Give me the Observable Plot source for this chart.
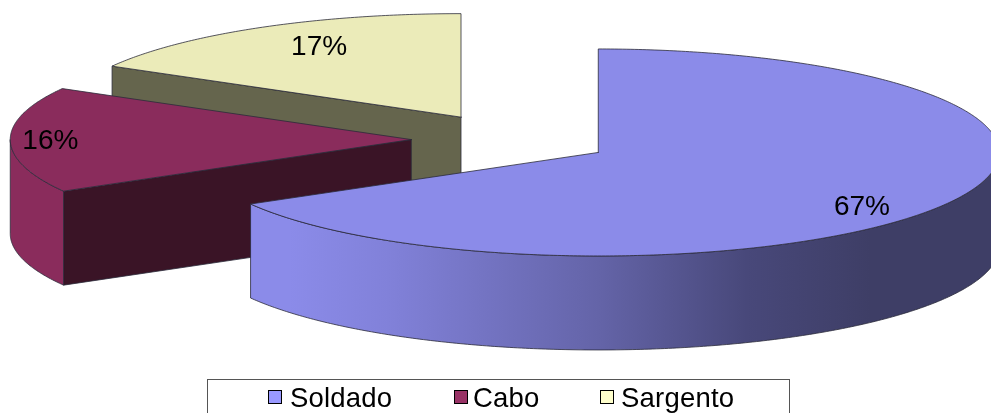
<!DOCTYPE html>
<html>
<head>
<meta charset="utf-8">
<script src="https://cdn.jsdelivr.net/npm/d3@7"></script>
<script src="https://cdn.jsdelivr.net/npm/@observablehq/plot@0.6"></script>
<style>
html,body{margin:0;padding:0;width:991px;height:413px;overflow:hidden;background:#fff;}
#chart svg{display:block;filter:blur(0.45px);}
#legend{box-sizing:border-box;position:absolute;left:207px;top:379px;width:583px;height:44px;border:1px solid #555;
 font:27.5px "Liberation Sans",Arial,sans-serif;letter-spacing:0.2px;color:#000;filter:blur(0.45px);}
#legend span.item{position:absolute;top:0px;line-height:36px;white-space:nowrap;}
#legend i{position:absolute;width:12px;height:12px;border:1.5px solid #000;top:10px;box-sizing:content-box;}
</style>
</head>
<body>
<div id="chart"></div>
<div id="legend"></div>
<script>
const categories = ["Soldado", "Cabo", "Sargento"];
const shares = [66.7, 16.5, 16.8];
const percentLabels = ["67%", "16%", "17%"];
const legendColors = ["#9999ff", "#993366", "#ffffcc"];
const topColors = ["#8b8be9", "#8a2c5c", "#ebebb9"];
const faceColors = ["#3e3e66", "#3a1426", "#65654d"];

// Layout of the projected pie
const W = 991, H = 379;
const cx = 511, cy = 139, rx = 401, ry = 103.5, depth = 94, explode = 0.25;
const labelFraction = [0.835, 0.9, 0.773];
const labelTurn = [8, 1, 3];
const labelDrop = [0, 2, 0];

const arcs = d3.pie().sort(null).value(d => d)(shares);

const sectors = arcs.map((a, i) => {
  const mid = (a.startAngle + a.endAngle) / 2;
  return {
    i, a0: a.startAngle, a1: a.endAngle, mid,
    ox: cx + explode * rx * Math.sin(mid),
    oy: cy - explode * ry * Math.cos(mid)
  };
});

const pt = (s, t, f = 1, dz = 0) => ({
  x: s.ox + f * rx * Math.sin(t),
  y: s.oy - f * ry * Math.cos(t) + dz
});
const arcPts = (s, a0, a1, dz = 0) => {
  const n = Math.max(2, Math.ceil((a1 - a0) / 0.01));
  return d3.range(n + 1).map(k => pt(s, a0 + (a1 - a0) * k / n, 1, dz));
};
const closed = p => [...p, p[0]];
const apex = (s, dz = 0) => ({x: s.ox, y: s.oy + dz});

const lineStyle = {x: "x", y: "y", stroke: "#2b2b3a", strokeWidth: 0.8, strokeLinejoin: "round"};
const shape = (pts, fill) => Plot.line(pts, {...lineStyle, fill});

const gradient = () => {
  const defs = d3.create("svg:defs");
  const g = defs.append("linearGradient").attr("id", "rimSoldado")
    .attr("gradientUnits", "userSpaceOnUse")
    .attr("x1", 252).attr("x2", 870).attr("y1", 0).attr("y2", 0);
  [[0.06, topColors[0]], [0.22, "#8181d9"], [0.56, "#6464a8"], [0.8, "#48487a"], [1, faceColors[0]]]
    .forEach(([o, c]) => g.append("stop").attr("offset", o).attr("stop-color", c));
  return defs.node();
};

const marks = [gradient];
// back to front: Sargento, Cabo, Soldado
[2, 1, 0].forEach(i => {
  const s = sectors[i];
  // visible cut face (the one at the sector's start angle)
  if (Math.cos(s.a0 - Math.PI / 2) < 0) {
    marks.push(shape(closed([apex(s), pt(s, s.a0), pt(s, s.a0, 1, depth), apex(s, depth)]), faceColors[i]));
  }
  // visible rim (front half of the ellipse)
  const r0 = Math.max(s.a0, Math.PI / 2), r1 = Math.min(s.a1, Math.PI * 1.5);
  if (r1 > r0) {
    const fill = i === 0 ? "url(#rimSoldado)" : topColors[i];
    marks.push(shape(closed([...arcPts(s, r0, r1), ...arcPts(s, r0, r1, depth).reverse()]), fill));
  }
  // top surface
  marks.push(shape(closed([apex(s), ...arcPts(s, s.a0, s.a1)]), topColors[i]));
});

const labelData = sectors.map(s => {
  const t = s.mid + labelTurn[s.i] * Math.PI / 180;
  const p = pt(s, t, labelFraction[s.i], labelDrop[s.i]);
  return {...p, text: percentLabels[s.i]};
});
marks.push(Plot.text(labelData, {
  x: "x", y: "y", text: "text", fontSize: 28, fill: "#000",
  fontFamily: "Liberation Sans, Arial, sans-serif", stroke: "none"
}));

const chart = Plot.plot({
  width: W, height: H,
  margin: 0,
  x: {domain: [0, W], range: [0, W], axis: null},
  y: {domain: [0, H], range: [0, H], axis: null},
  style: {background: "#fff", overflow: "hidden"},
  marks
});
document.getElementById("chart").append(chart);

// Legend below the SVG
const legendSwatchLeft = [60, 246, 392];
const legendTextLeft = [82, 265, 413];
const legend = document.getElementById("legend");
categories.forEach((c, i) => {
  const sw = document.createElement("i");
  sw.style.left = legendSwatchLeft[i] + "px";
  sw.style.background = legendColors[i];
  legend.append(sw);
  const t = document.createElement("span");
  t.className = "item";
  t.style.left = legendTextLeft[i] + "px";
  t.textContent = c;
  legend.append(t);
});
</script>
</body>
</html>
